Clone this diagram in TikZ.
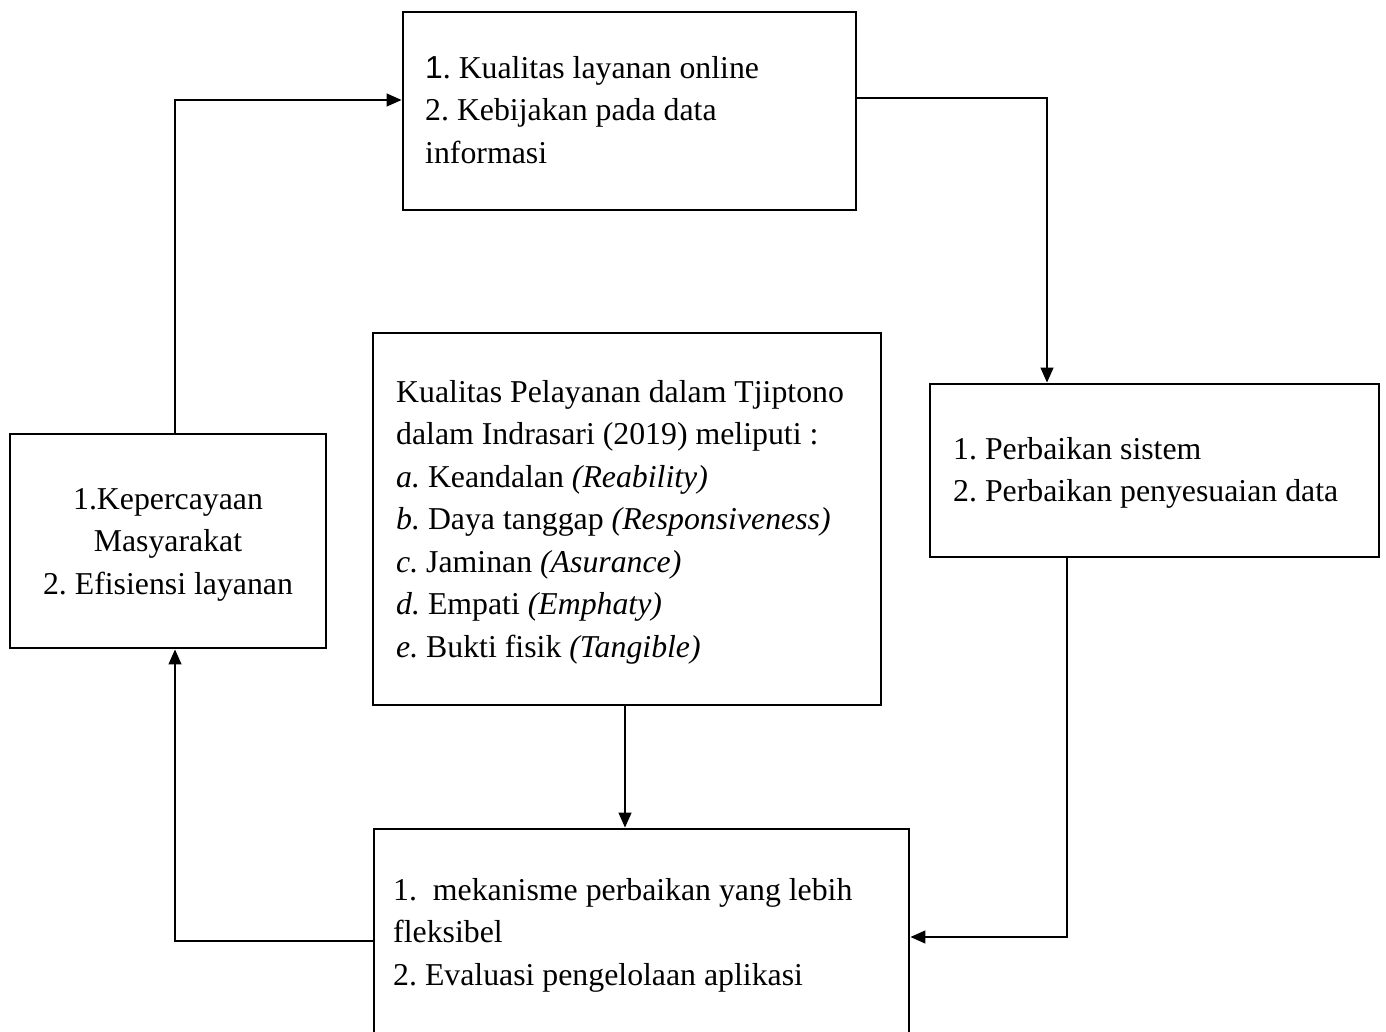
\documentclass[tikz,border=0pt]{standalone}
\usepackage{fontspec}
\setmainfont{Liberation Serif}
\setsansfont{Liberation Sans}
\usetikzlibrary{arrows.meta}
\frenchspacing
\newcommand\txtsize{\fontsize{31.8}{42.5}\selectfont\frenchspacing}
\tikzset{
  box/.style={draw, line width=2.9pt, inner sep=0pt},
  txt/.style={inner sep=0pt, font=\txtsize, anchor=north west, align=left},
  conn/.style={line width=1.3pt, -{Triangle[length=15pt,width=13pt]}},
}
\begin{document}
\begin{tikzpicture}[x=1pt,y=-1pt]
\useasboundingbox (0,0) rectangle (1386,1032);
\clip (0,0) rectangle (1386,1032);
\fill[white] (0,0) rectangle (1386,1032);
% boxes
\node[box, minimum width=453pt, minimum height=198pt] (top) at (629.5,111) {};
\node[box, minimum width=508pt, minimum height=372pt] (mid) at (627,519) {};
\node[box, minimum width=449pt, minimum height=173pt] (right) at (1154.5,470.5) {};
\node[box, minimum width=316pt, minimum height=214pt] (left) at (168,541) {};
\node[box, minimum width=535pt, minimum height=216pt] (bot) at (641.5,937) {};
% texts
\node[txt] (ttop) at (425,48.25) {\strut{\sffamily 1}. Kualitas layanan online\\2. Kebijakan pada data\\informasi};
\node[txt] (tmid) at (396,372.25) {\strut Kualitas Pelayanan dalam Tjiptono\\dalam Indrasari (2019) meliputi :\\\textit{a.} Keandalan \textit{(Reability)}\\\textit{b.} Daya tanggap \textit{(Responsiveness)}\\\textit{c.} Jaminan \textit{(Asurance)}\\\textit{d.} Empati \textit{(Emphaty)}\\\textit{e.} Bukti fisik \textit{(Tangible)}};
\node[txt] (tright) at (953,429.25) {\strut 1. Perbaikan sistem\\2. Perbaikan penyesuaian data};
\node[txt, anchor=north, align=center] (tleft) at (168,479.25) {\strut 1.Kepercayaan\\Masyarakat\\2. Efisiensi layanan};
\node[txt] (tbot) at (393,870.25) {\strut 1.\ \ mekanisme perbaikan yang lebih\\fleksibel\\2. Evaluasi pengelolaan aplikasi};
% connectors
\draw[conn] ([xshift=7pt]left.north) |- ([yshift=11pt]top.west);
\draw[conn] ([yshift=13pt]top.east) -| ([xshift=-107.5pt]right.north);
\draw[conn] ([xshift=-87.5pt]right.south) |- (bot.east);
\draw[conn] ([xshift=-2pt]mid.south) -- ([xshift=-2pt]mid.south |- bot.north);
\draw[conn] ([yshift=-4pt]bot.west) -| ([xshift=7pt]left.south);
\end{tikzpicture}
\end{document}
